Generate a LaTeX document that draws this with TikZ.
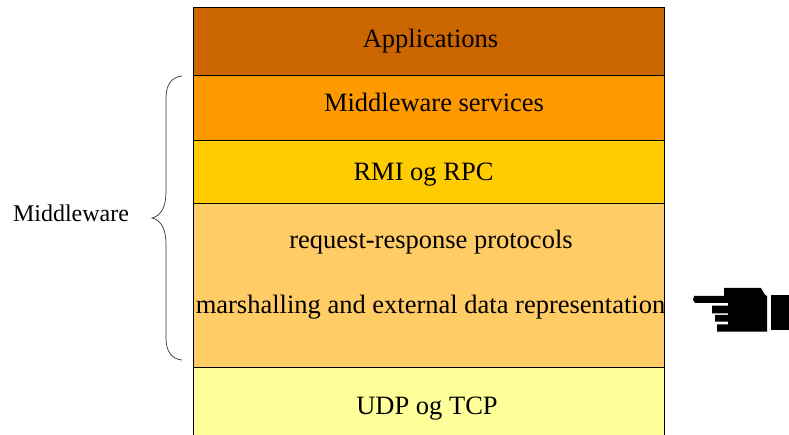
\documentclass[tikz,border=0pt]{standalone}
\usepackage{fontspec}
\setmainfont{Liberation Serif}
\definecolor{appc}{RGB}{204,102,0}
\definecolor{svcc}{RGB}{255,153,0}
\definecolor{rmic}{RGB}{255,204,0}
\definecolor{reqc}{RGB}{255,204,102}
\definecolor{udpc}{RGB}{255,255,153}
\tikzset{
  layer/.style={draw=black,line width=0.9pt,anchor=north west,minimum width=470.5pt,inner sep=0pt,outer sep=0pt},
  label/.style={font=\fontsize{26.5pt}{28pt}\selectfont,text=black,inner sep=0pt,anchor=base},
  ink/.style={fill=black,draw=none}
}
\begin{document}
\begin{tikzpicture}[x=1pt,y=-1pt]
\useasboundingbox (0,0) rectangle (789,435);
\clip (0,0) rectangle (789,435);
\node[layer,fill=udpc,minimum height=80pt] (udp) at (193.5,367.5) {};
\node[layer,fill=reqc,minimum height=164pt] (req) at (193.5,203.5) {};
\node[layer,fill=rmic,minimum height=63pt] (rmi) at (193.5,140.5) {};
\node[layer,fill=svcc,minimum height=65.5pt] (svc) at (193.5,75) {};
\node[layer,fill=appc,minimum height=68pt] (app) at (193.5,7) {};
\node[label] (tapp) at (430.5,48) {Applications};
\node[label] (tsvc) at (434,112) {Middleware services};
\node[label] (trmi) at (423.5,181) {RMI og RPC};
\node[label] (treq) at (431,249) {request-response protocols};
\node[label] (tmar) at (430.5,313) {marshalling and external data representation};
\node[label] (tudp) at (427,414) {UDP og TCP};
\node[label,font=\fontsize{24pt}{26pt}\selectfont] (tmid) at (71,222) {Middleware};
\coordinate (bt) at (182,76);
\coordinate (bm) at (152,218);
\coordinate (bb) at (182,360);
\draw[line width=0.7pt,black!80] (bt) .. controls (172,77) and (166,84) .. (166,98)
  -- (166,192) .. controls (166,207) and (161,216) .. (bm)
  .. controls (161,220) and (166,229) .. (166,244)
  -- (166,338) .. controls (166,352) and (172,359) .. (bb);
\fill[ink] (724,288) -- (761,288) -- (765,295) -- (767,296) -- (767,331.5)
  -- (717,331.5) -- (717,324.3) -- (728,324.3) -- (728,321.7) -- (715,321.7)
  -- (715,315) -- (728,315) -- (728,313.3) -- (712,313.3) -- (712,305.7)
  -- (728,305.7) -- (728,303) -- (695,303) -- (693,300) -- (694,296) -- (724,296) -- cycle;
\fill[ink] (771,295) rectangle (789,330);
\end{tikzpicture}
\end{document}
